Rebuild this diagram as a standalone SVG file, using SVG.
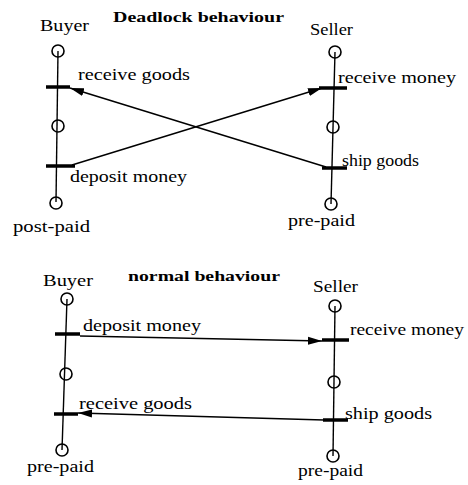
<svg xmlns="http://www.w3.org/2000/svg" width="468" height="485" viewBox="0 0 468 485">
<style>
text{font-family:"Liberation Serif","DejaVu Serif",serif;font-size:16px;fill:#000}
.t{font-weight:bold;font-size:15px}
.ln{stroke:#000;stroke-width:1.4;fill:none}
.st{stroke:#000;stroke-width:1.6;fill:none}
.bar{stroke:#000;stroke-width:3.5}
.ar{stroke:#000;stroke-width:1.5;fill:none}
</style>
<defs>
<marker id="ah" markerUnits="userSpaceOnUse" markerWidth="16" markerHeight="10" refX="14" refY="5" orient="auto">
<path d="M0,1 L14,5 L0,9 Z" fill="#000"/>
</marker>
</defs>
<rect width="468" height="485" fill="#fff"/>
<text class="t" x="113" y="22" textLength="171" lengthAdjust="spacingAndGlyphs">Deadlock behaviour</text>
<text class="t" x="128" y="281" textLength="152" lengthAdjust="spacingAndGlyphs">normal behaviour</text>

<g id="buyer-deadlock">
<line class="ln" x1="58" y1="51" x2="56" y2="202"/>
<circle class="st" cx="58" cy="51" r="6"/>
<circle class="st" cx="58" cy="126" r="6"/>
<circle class="st" cx="56" cy="203" r="6"/>
<line class="bar" x1="46" y1="87" x2="70" y2="87"/>
<line class="bar" x1="46" y1="166" x2="75" y2="166"/>
<text x="40" y="31" textLength="49" lengthAdjust="spacingAndGlyphs">Buyer</text>
<text x="78" y="80" textLength="112" lengthAdjust="spacingAndGlyphs">receive goods</text>
<text x="70" y="182" textLength="117" lengthAdjust="spacingAndGlyphs">deposit money</text>
<text x="13" y="232" textLength="77" lengthAdjust="spacingAndGlyphs">post-paid</text>
</g>

<g id="seller-deadlock">
<line class="ln" x1="335" y1="52" x2="331" y2="204"/>
<circle class="st" cx="335" cy="52" r="6"/>
<circle class="st" cx="333" cy="127" r="6"/>
<circle class="st" cx="331" cy="204" r="6"/>
<line class="bar" x1="319" y1="88" x2="347" y2="88"/>
<line class="bar" x1="322" y1="168" x2="347" y2="168"/>
<text x="310" y="35" textLength="43" lengthAdjust="spacingAndGlyphs">Seller</text>
<text x="338" y="83" textLength="118" lengthAdjust="spacingAndGlyphs">receive money</text>
<text x="342" y="166" textLength="77" lengthAdjust="spacingAndGlyphs">ship goods</text>
<text x="288" y="226" textLength="67" lengthAdjust="spacingAndGlyphs">pre-paid</text>
</g>

<g id="buyer-normal">
<line class="ln" x1="67" y1="299" x2="62" y2="450"/>
<circle class="st" cx="67" cy="299" r="6"/>
<circle class="st" cx="66" cy="374" r="6"/>
<circle class="st" cx="62" cy="450" r="6"/>
<line class="bar" x1="55" y1="334" x2="80" y2="334"/>
<line class="bar" x1="54" y1="414" x2="78" y2="414"/>
<text x="43" y="286" textLength="50" lengthAdjust="spacingAndGlyphs">Buyer</text>
<text x="83" y="331" textLength="118" lengthAdjust="spacingAndGlyphs">deposit money</text>
<text x="79" y="409" textLength="113" lengthAdjust="spacingAndGlyphs">receive goods</text>
<text x="27" y="472" textLength="67" lengthAdjust="spacingAndGlyphs">pre-paid</text>
</g>

<g id="seller-normal">
<line class="ln" x1="335" y1="306" x2="333" y2="456"/>
<circle class="st" cx="335" cy="306" r="6"/>
<circle class="st" cx="334" cy="382" r="6"/>
<circle class="st" cx="333" cy="456" r="6"/>
<line class="bar" x1="322" y1="340" x2="349" y2="340"/>
<line class="bar" x1="323" y1="420" x2="348" y2="420"/>
<text x="313" y="292" textLength="45" lengthAdjust="spacingAndGlyphs">Seller</text>
<text x="350" y="335" textLength="114" lengthAdjust="spacingAndGlyphs">receive money</text>
<text x="345" y="419" textLength="87" lengthAdjust="spacingAndGlyphs">ship goods</text>
<text x="298" y="476" textLength="65" lengthAdjust="spacingAndGlyphs">pre-paid</text>
</g>

<g id="connectors">
<line class="ar" x1="326" y1="167" x2="70" y2="88" marker-end="url(#ah)"/>
<line class="ar" x1="72" y1="165" x2="322" y2="88" marker-end="url(#ah)"/>
<line class="ar" x1="80" y1="336" x2="322" y2="341" marker-end="url(#ah)"/>
<line class="ar" x1="324" y1="420" x2="78" y2="413" marker-end="url(#ah)"/>
</g>
</svg>
